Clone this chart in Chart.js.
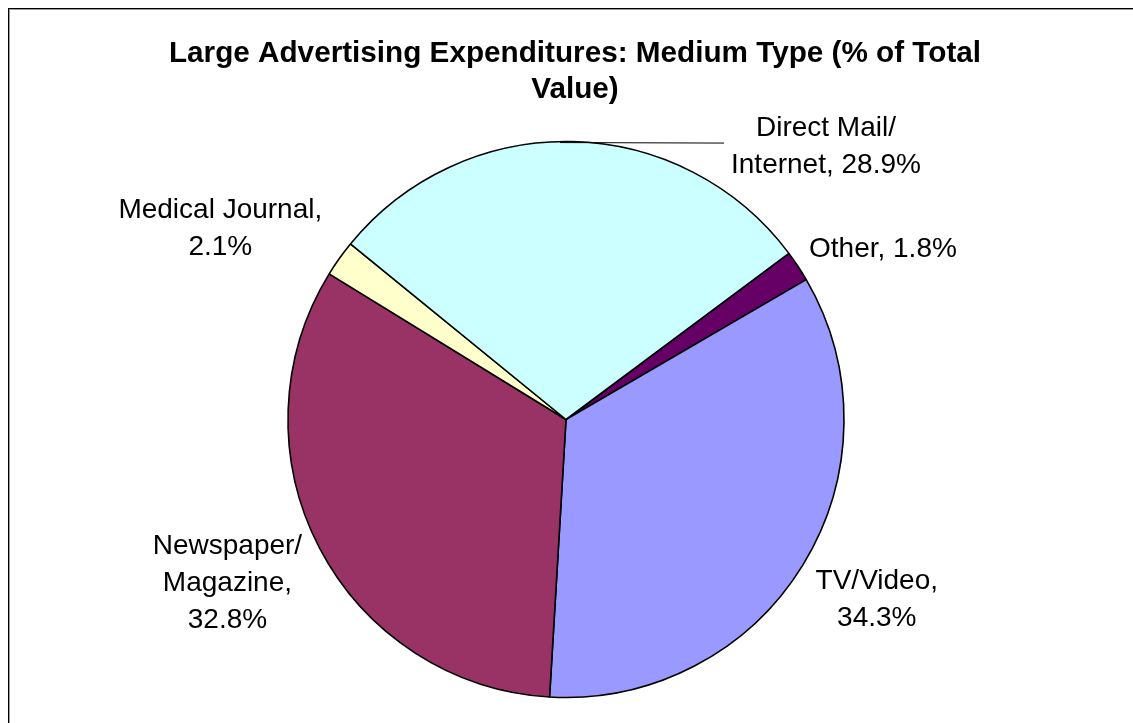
<!DOCTYPE html>
<html>
<head>
<meta charset="utf-8">
<script src="https://cdn.jsdelivr.net/npm/chart.js@4.4.1/dist/chart.umd.min.js"></script>
<style>
  html, body { margin: 0; padding: 0; background: #fff; overflow: hidden; }
  canvas { display: block; }
</style>
</head>
<body>
<canvas id="chart" width="1133" height="723"></canvas>
<script>
// ---- data ----
const titleLines = ['Large Advertising Expenditures: Medium Type (% of Total', 'Value)'];
const nameLines = [['Other'], ['TV/Video'], ['Newspaper/', 'Magazine'], ['Medical Journal'], ['Direct Mail/', 'Internet']];
const categories = nameLines.map(l => l.join(' '));
const shares = [1.8, 34.3, 32.8, 2.1, 28.9];
const sliceColors = ['#660066', '#9999FF', '#993366', '#FFFFCC', '#CCFFFF'];
// whether the percentage goes on its own line under the name
const valueOnOwnLine = [false, true, true, true, false];

// data label text: name lines, with ", x.x%" appended or on a new line
function labelText(i) {
  const lines = nameLines[i].slice();
  const pct = shares[i].toFixed(1) + '%';
  if (valueOnOwnLine[i]) {
    lines[lines.length - 1] += ',';
    lines.push(pct);
  } else {
    lines[lines.length - 1] += ', ' + pct;
  }
  return lines;
}

// label placement: offset of the label block centre from the slice's outer mid point
const labelLayout = [
  { dx: 85,   dy: -19 },
  { dx: 74,   dy: 32 },
  { dx: -92,  dy: 33 },
  { dx: -119, dy: -32.5 },
  { dx: 254,  dy: 3, leader: true }
];

const FONT = '"Liberation Sans", Arial, Helvetica, sans-serif';

const labelsAndFrame = {
  id: 'labelsAndFrame',
  afterDraw(chart) {
    const ctx = chart.ctx;
    ctx.save();

    // outer frame (runs off the right and bottom edges)
    ctx.lineWidth = 1;
    ctx.strokeStyle = '#9a9a9a';
    ctx.strokeRect(9.5, 9.5, 3000, 3000);
    ctx.strokeStyle = '#000';
    ctx.strokeRect(8.5, 8.5, 3000, 3000);

    // title, centred on the full chart frame
    ctx.fillStyle = '#000';
    ctx.textAlign = 'center';
    ctx.textBaseline = 'alphabetic';
    ctx.font = 'bold 29.7px ' + FONT;
    titleLines.forEach((t, k) => ctx.fillText(t, 575, 62 + k * 36));

    // data labels
    const meta = chart.getDatasetMeta(0);
    const fs = 28, lh = 37;
    ctx.font = fs + 'px ' + FONT;
    meta.data.forEach((arc, i) => {
      const p = arc.getProps(['x', 'y', 'startAngle', 'endAngle', 'outerRadius'], true);
      const mid = (p.startAngle + p.endAngle) / 2;
      const ax = p.x + Math.cos(mid) * p.outerRadius;
      const ay = p.y + Math.sin(mid) * p.outerRadius;
      const lay = labelLayout[i];
      const cx = ax + lay.dx, cy = ay + lay.dy;
      const lines = labelText(i);
      const w = Math.max(...lines.map(s => ctx.measureText(s).width));
      lines.forEach((s, k) => {
        const base = cy - (lines.length - 1) / 2 * lh + k * lh + 0.358 * fs;
        ctx.fillText(s, cx, base);
      });
      if (lay.leader) {
        ctx.beginPath();
        ctx.lineWidth = 1;
        ctx.strokeStyle = '#000';
        ctx.moveTo(ax - 12, ay + 1);
        ctx.lineTo(cx - w / 2 - 7, cy - 1.5);
        ctx.stroke();
      }
    });
    ctx.restore();
  }
};

new Chart(document.getElementById('chart'), {
  type: 'pie',
  data: {
    labels: categories,
    datasets: [{
      data: shares,
      backgroundColor: sliceColors,
      borderColor: '#000',
      borderWidth: 1.6
    }]
  },
  options: {
    responsive: false,
    animation: false,
    devicePixelRatio: 1,
    rotation: 53.3,
    radius: 278,
    layout: { padding: { top: 136, bottom: 20, left: 0, right: 1 } },
    plugins: {
      legend: { display: false },
      title: { display: false },
      tooltip: { enabled: false }
    }
  },
  plugins: [labelsAndFrame]
});
</script>
</body>
</html>
